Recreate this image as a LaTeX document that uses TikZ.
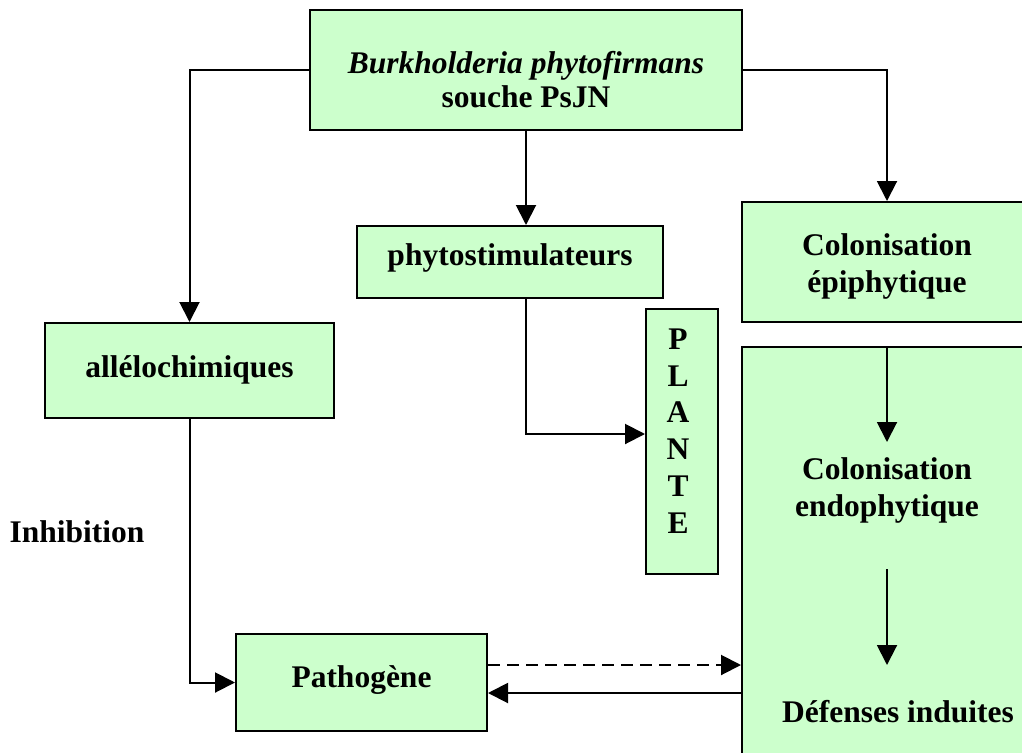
\documentclass[tikz,border=0pt]{standalone}
\usepackage{fontspec}
\setmainfont{Liberation Serif}
\usetikzlibrary{arrows.meta,positioning}
\definecolor{boxgreen}{HTML}{CCFFCC}
\tikzset{
  box/.style={draw=black, fill=boxgreen, line width=2pt, inner sep=0pt},
  lbl/.style={font=\fontsize{31.5}{36}\selectfont\bfseries, align=center, inner sep=0pt},
  conn/.style={line width=2pt, -{Triangle[length=20pt,width=20pt]}},
}
\begin{document}
\begin{tikzpicture}[x=1pt,y=-1pt]
\useasboundingbox (0,0) rectangle (1022,752);
\clip (0,0) rectangle (1022,752);
\fill[white] (0,0) rectangle (1022,752);

% boxes
\node[box, minimum width=432pt, minimum height=120pt] (top) at (526,70) {};
\node[lbl, font=\fontsize{31.5}{34}\selectfont\bfseries] at (526,80) {\textit{Burkholderia phytofirmans}\\souche PsJN};

\node[box, minimum width=306pt, minimum height=72pt] (phyto) at (510,262) {};
\node[lbl] at (510,258) {phytostimulateurs};

\node[box, minimum width=289pt, minimum height=95pt] (allelo) at (189.5,370.5) {};
\node[lbl] at (189.5,370) {allélochimiques};

\node[box, minimum width=290pt, minimum height=120pt] (epi) at (887,262) {};
\node[lbl, font=\fontsize{31.5}{37}\selectfont\bfseries] at (887,266) {Colonisation\\épiphytique};

\node[box, minimum width=72pt, minimum height=265pt] (plante) at (682,441.5) {};
\node[lbl, font=\fontsize{31.5}{36.8}\selectfont\bfseries] at (678,431) {P\\L\\A\\N\\T\\E};

\node[box, minimum width=290pt, minimum height=423pt] (big) at (887,558.5) {};
\node[lbl, font=\fontsize{31.5}{37}\selectfont\bfseries] (endo) at (887,490) {Colonisation\\endophytique};
\node[lbl] (def) at (898,712) {Défenses induites};

\node[box, minimum width=251pt, minimum height=97pt] (patho) at (361.5,682.5) {};
\node[lbl] at (361.5,680) {Pathogène};

\node[lbl] (inhib) at (77,532) {Inhibition};

% connectors
\draw[conn] (top.west) -| (allelo.north);
\draw[conn] (top.east) -| (epi.north);
\draw[conn] (top.south) -- (top.south |- phyto.north);
\coordinate (turn) at (526,434);
\draw[conn] (top.south |- phyto.south) -- (turn) -- (turn -| plante.west);
\draw[conn] (allelo.south) |- (patho.west);
\draw[conn, dash pattern=on 12pt off 7pt] (patho.east |- 0,665) -- (big.west |- 0,665);
\draw[conn] (big.west |- 0,693) -- (patho.east |- 0,693);
\draw[conn] (big.north) -- (887,442);
\draw[conn] (887,569) -- (887,665);
\end{tikzpicture}
\end{document}
